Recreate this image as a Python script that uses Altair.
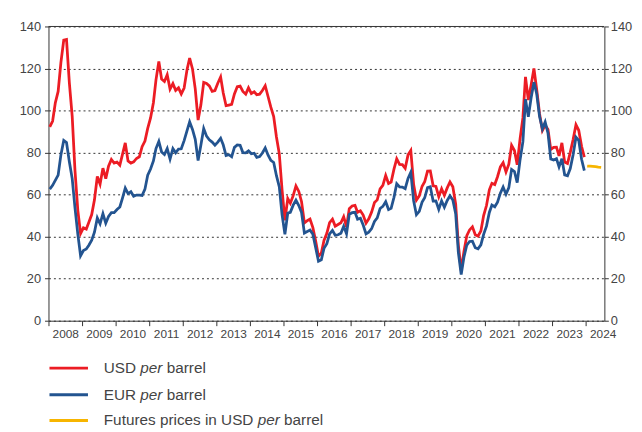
import altair as alt
import pandas as pd

# ---- data (monthly averages, Jan 2008 - Dec 2023) ----
years = list(range(2008, 2024))

usd_per_barrel = [
    92.2, 95.0, 103.6, 109.1, 122.8, 133.5, 133.8, 113.2, 97.2, 71.6, 52.5, 41.5,
    44.2, 43.6, 46.8, 50.5, 57.5, 68.6, 65.0, 72.6, 67.6, 73.5, 76.7, 75.0,
    75.5, 74.0, 79.0, 84.6, 76.0, 75.0, 75.6, 77.2, 78.0, 82.8, 85.5, 91.5,
    96.5, 103.7, 114.6, 123.3, 115.0, 113.8, 117.0, 110.2, 112.8, 109.6, 110.8, 107.9,
    110.7, 119.3, 125.0, 119.8, 110.3, 95.5, 102.6, 113.4, 112.9, 111.7, 109.1, 109.5,
    113.0, 116.0, 108.5, 102.3, 102.6, 102.9, 107.9, 111.3, 111.6, 109.1, 107.8, 110.8,
    108.1, 108.9, 107.5, 107.8, 109.5, 111.8, 106.8, 101.6, 97.1, 87.4, 79.4, 62.3,
    47.8, 58.1, 55.9, 59.5, 64.1, 61.5, 56.6, 46.5, 47.6, 48.4, 44.3, 38.0,
    30.7, 32.2, 38.2, 41.6, 46.7, 48.3, 45.0, 45.8, 46.6, 49.5, 44.7, 53.3,
    54.6, 54.9, 51.6, 52.3, 50.3, 46.4, 48.5, 51.7, 56.2, 57.5, 62.7, 64.4,
    69.1, 65.3, 66.0, 72.1, 77.0, 74.4, 74.3, 72.5, 78.9, 81.0, 64.8, 57.4,
    59.4, 64.0, 66.1, 71.2, 71.3, 64.2, 63.9, 59.0, 62.8, 59.7, 63.2, 66.0,
    63.7, 55.5, 36.0, 24.0, 33.0, 40.5, 43.2, 44.7, 40.9, 40.2, 42.7, 50.0,
    54.8, 62.3, 65.4, 64.8, 68.5, 73.2, 75.2, 70.8, 74.5, 83.5, 81.0, 74.2,
    86.5, 96.5, 116.0, 105.0, 112.0, 120.0, 110.0, 98.5, 90.5, 93.0, 91.0, 81.5,
    82.5, 82.6, 78.4, 84.6, 75.5, 74.8, 80.1, 86.2, 93.2, 90.6, 83.0, 77.8,
]

eur_per_barrel = [
    62.6, 64.4, 66.8, 69.3, 78.9, 85.8, 84.8, 75.6, 67.6, 53.8, 41.2, 30.9,
    33.4, 34.1, 35.9, 38.3, 42.1, 48.9, 46.1, 50.9, 46.4, 49.6, 51.4, 51.4,
    52.9, 54.1, 58.2, 63.1, 60.5, 61.4, 59.2, 59.8, 59.7, 59.6, 62.6, 69.2,
    72.2, 76.0, 81.9, 85.3, 80.3, 79.1, 81.9, 76.9, 81.9, 79.9, 81.7, 81.8,
    85.7, 90.3, 94.6, 91.0, 86.3, 76.2, 83.5, 91.4, 87.8, 86.1, 85.0, 83.5,
    85.0, 86.8, 83.7, 78.6, 79.0, 78.0, 82.5, 83.6, 83.5, 80.0, 79.9, 80.8,
    79.4, 79.7, 77.7, 78.1, 79.8, 82.2, 78.9, 76.3, 75.3, 69.0, 63.7, 50.5,
    41.1, 51.2, 51.6, 55.0, 57.4, 54.8, 51.5, 41.7, 42.4, 43.1, 41.2, 34.9,
    28.3, 29.0, 34.4, 36.7, 41.3, 43.0, 40.7, 40.9, 41.6, 44.9, 41.4, 50.6,
    51.4, 51.6, 48.3, 48.8, 45.5, 41.3, 42.1, 43.8, 47.2, 48.9, 53.4, 54.4,
    56.6, 52.9, 53.5, 58.7, 65.2, 63.7, 63.6, 62.8, 67.7, 70.6, 57.0, 50.4,
    52.0, 56.4, 58.5, 63.3, 63.7, 56.9, 57.0, 53.0, 57.0, 54.0, 57.2, 59.4,
    57.4, 50.9, 32.5, 22.0, 30.3, 36.0, 37.7, 37.8, 34.7, 34.2, 36.1, 41.1,
    45.0, 51.5, 55.0, 54.2, 56.4, 60.7, 63.6, 60.2, 63.3, 72.0, 71.0, 65.7,
    76.5, 85.2, 105.4, 97.0, 106.0, 113.5, 108.0, 97.2, 91.3, 94.6, 89.2, 77.0,
    76.5, 77.1, 73.2, 77.1, 69.4, 69.0, 72.4, 79.0, 87.3, 85.8, 76.8, 71.4,
]

futures_months = ["2024-01", "2024-02", "2024-03", "2024-04", "2024-05", "2024-06"]
futures_usd = [73.6, 73.5, 73.4, 73.3, 73.1, 73.0]

year_ticks = list(range(2008, 2025))
y_ticks = [0, 20, 40, 60, 80, 100, 120, 140]
top_line = [140]

legend_rows = [
    ("USD", "per", "barrel", "#EC1C24"),
    ("EUR", "per", "barrel", "#235490"),
    ("Futures prices in USD", "per", "barrel", "#F7B500"),
]

# ---- styling ----
FONT = "Liberation Sans"
RED, BLUE, YELLOW = "#EC1C24", "#235490", "#F7B500"
LW = 2.8
AX = "#333333"
TXT = "#444444"

months = [f"{y}-{m:02d}-15T00:00:00" for y in years for m in range(1, 13)]
df_usd = pd.DataFrame({"date": months, "value": usd_per_barrel})
df_eur = pd.DataFrame({"date": months, "value": eur_per_barrel})
df_fut = pd.DataFrame({"date": [f"{m}-15T00:00:00" for m in futures_months], "value": futures_usd})

x_scale = alt.Scale(domain=[alt.DateTime(year=2008, month=1, date=1),
                            alt.DateTime(year=2024, month=7, date=20)])
y_scale = alt.Scale(domain=[0, 140], nice=False)

x_axis = alt.Axis(values=[alt.DateTime(year=y, month=1, date=1) for y in year_ticks],
                  format="%Y", title=None, labelOffset=17, labelFlush=False,
                  labelOverlap=False, tickSize=5, labelPadding=3, grid=False,
                  domainColor=AX, tickColor=AX, labelColor=TXT,
                  labelFont=FONT, labelFontSize=12, domainWidth=1)

left_axis = alt.Axis(values=y_ticks, title=None, grid=True, gridDash=[2, 3],
                     gridColor=AX, gridWidth=1, gridOpacity=1, tickSize=4,
                     labelPadding=4, domainColor=AX, tickColor=AX,
                     labelColor=TXT, labelFont=FONT, labelFontSize=13)
right_axis = alt.Axis(values=y_ticks, title=None, grid=False, orient="right", tickSize=4,
                      labelPadding=2, domainColor=AX, tickColor=AX,
                      labelColor=TXT, labelFont=FONT, labelFontSize=13)

X = alt.X("date:T", scale=x_scale, axis=x_axis)

red = alt.Chart(df_usd).mark_line(color=RED, strokeWidth=LW).encode(
    x=X, y=alt.Y("value:Q", scale=y_scale, axis=left_axis))
blue = alt.Chart(df_eur).mark_line(color=BLUE, strokeWidth=LW).encode(
    x=X, y=alt.Y("value:Q", scale=y_scale, axis=right_axis))
yellow = alt.Chart(df_fut).mark_line(color=YELLOW, strokeWidth=LW).encode(
    x=X, y=alt.Y("value:Q", scale=y_scale, axis=None))
top = alt.Chart(pd.DataFrame({"v": top_line})).mark_rule(color=AX, strokeWidth=1).encode(
    y=alt.Y("v:Q", scale=y_scale, axis=None))

layers = [red, blue, yellow, top]

# manual legend (mixed upright / italic text)
one = pd.DataFrame({"a": [0]})
FS = 15.5
row_y = [346, 373, 399]
seg_x = [(56, 93.0, 119.7), (56, 93.0, 119.7), (56, 211.9, 238.6)]
for (t1, t2, t3, col), yy, (x1, x2, x3) in zip(legend_rows, row_y, seg_x):
    layers.append(alt.Chart(one).mark_rule(color=col, strokeWidth=3).encode(
        x=alt.value(1), x2=alt.value(40), y=alt.value(yy)))
    for txt, xx, style in [(t1, x1, "normal"), (t2, x2, "italic"), (t3, x3, "normal")]:
        layers.append(alt.Chart(one).mark_text(
            text=txt, align="left", baseline="middle", font=FONT, fontSize=FS,
            fontStyle=style, color=TXT).encode(x=alt.value(xx), y=alt.value(yy)))

chart = alt.layer(*layers).resolve_axis(y="independent").properties(
    width=563, height=298,
    padding={"left": 41, "top": 16, "right": 30, "bottom": 110},
    autosize=alt.AutoSizeParams(type="none"),
).configure_view(stroke=None)

chart.save("out.html", embed_options={"renderer": "svg", "actions": False})
